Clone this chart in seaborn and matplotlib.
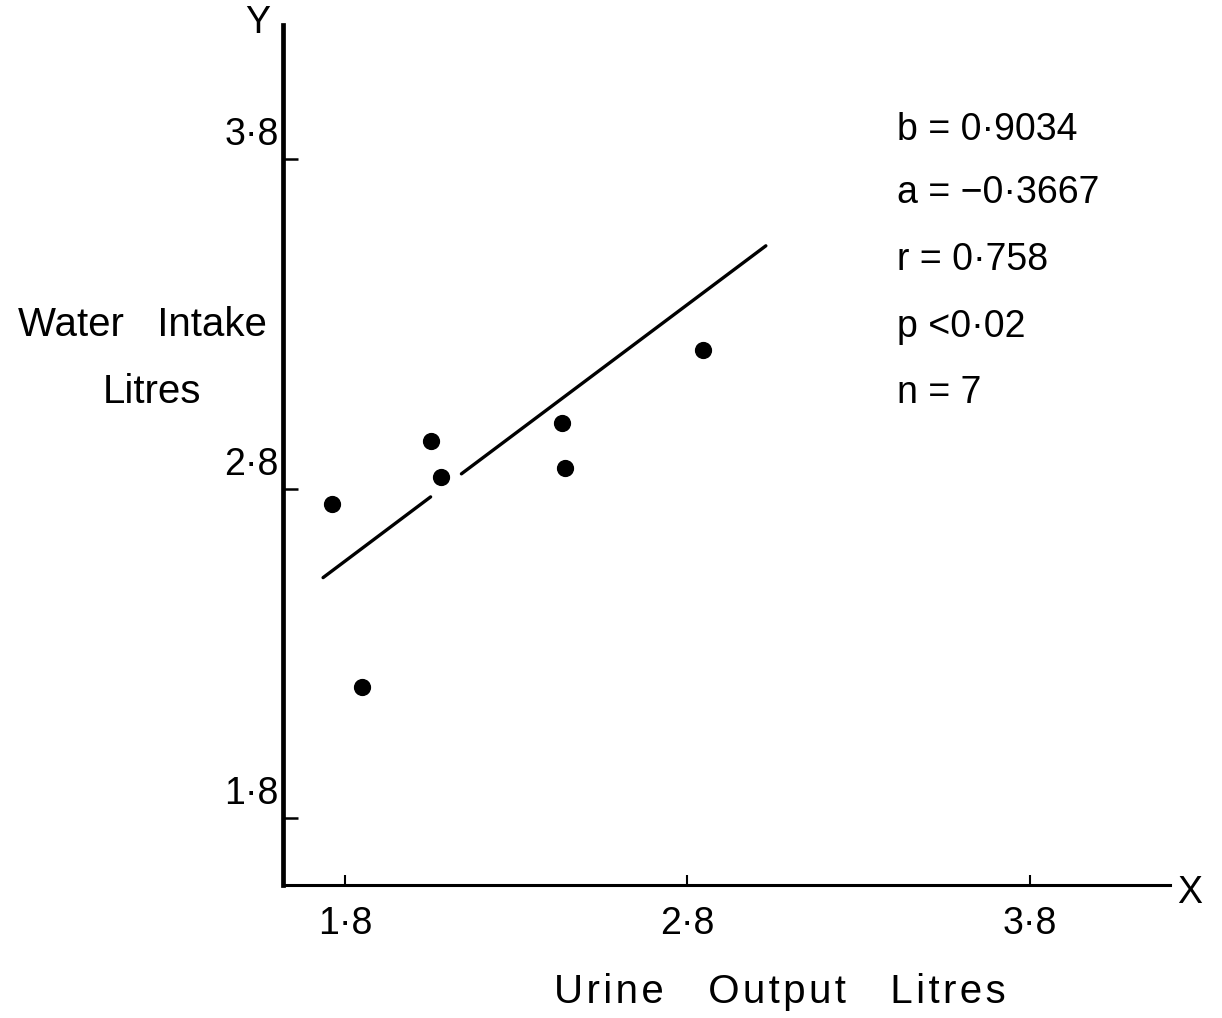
import numpy as np
import pandas as pd
import matplotlib
matplotlib.use("Agg")
import matplotlib.pyplot as plt
import matplotlib.transforms as mtransforms
import seaborn as sns

# ---- data ----
urine_output = [1.762, 1.850, 2.051, 2.080, 2.434, 2.442, 2.845]
water_intake = [2.754, 2.199, 2.946, 2.836, 3.000, 2.864, 3.222]

# regression line, drawn in two pieces (gap in original drawing)
line1_x = [1.736, 2.050]
line1_y = [2.530, 2.775]
line2_x = [2.140, 3.029]
line2_y = [2.845, 3.537]

x_ticks = [1.8, 2.8, 3.8]
y_ticks = [1.8, 2.8, 3.8]
x_tick_labels = ["1·8", "2·8", "3·8"]
y_tick_labels = ["1·8", "2·8", "3·8"]

stats_lines = ["b = 0·9034", "a = −0·3667", "r = 0·758", "p <0·02", "n = 7"]

x_label_words = ["Urine", "Output", "Litres"]
y_label_1 = "Water   Intake"
y_label_2 = "Litres"

# ---- style ----
sns.set_style("ticks", {"axes.edgecolor": "black", "text.color": "black",
                        "xtick.color": "black", "ytick.color": "black"})
plt.rcParams["font.family"] = ["Liberation Sans", "DejaVu Sans"]
plt.rcParams["text.color"] = "black"

fig = plt.figure(figsize=(12.22, 10.18), dpi=100)
ax = fig.add_axes([0.2316, 0.1306, 0.9574 - 0.2316, 0.9754 - 0.1306])

df = pd.DataFrame({"x": urine_output, "y": water_intake})
sns.lineplot(x=line1_x, y=line1_y, ax=ax, color="black", linewidth=2.4, sort=False)
sns.lineplot(x=line2_x, y=line2_y, ax=ax, color="black", linewidth=2.4, sort=False)
sns.scatterplot(data=df, x="x", y="y", ax=ax, s=130, color="black",
                edgecolor="black", linewidth=1, zorder=5)

ax.set_xlim(1.619, 4.209)
ax.set_ylim(1.597, 4.207)

for side in ["top", "right"]:
    ax.spines[side].set_visible(False)
ax.spines["left"].set_linewidth(3.4)
ax.spines["bottom"].set_linewidth(2.2)

ax.set_xticks(x_ticks)
ax.set_xticklabels(x_tick_labels, fontsize=27, color="black")
ax.set_yticks(y_ticks)
ax.set_yticklabels(y_tick_labels, fontsize=27, color="black")
ax.tick_params(axis="x", direction="in", length=7, width=1.5, pad=15)
ax.tick_params(axis="y", direction="in", length=11, width=1.8, pad=3)

# shift y tick labels upward (labels sit above their ticks in the original)
offset = mtransforms.ScaledTranslation(0, 0.28, fig.dpi_scale_trans)
for lbl in ax.get_yticklabels():
    lbl.set_transform(lbl.get_transform() + offset)

ax.set_xlabel("")
ax.set_ylabel("")

# axis titles
hair = "\u200a"
x_label = "    ".join(hair.join(w) for w in x_label_words)
fig.text(780 / 1222, 1 - 992 / 1018, x_label, fontsize=29, ha="center", va="center",
         color="black")
fig.text(142 / 1222, 1 - 325 / 1018, y_label_1, fontsize=29, ha="center", va="center",
         color="black")
fig.text(152 / 1222, 1 - 392 / 1018, y_label_2, fontsize=29, ha="center", va="center",
         color="black")
fig.text(258 / 1222, 1 - 23 / 1018, "Y", fontsize=27, ha="center", va="center", color="black")
fig.text(1190 / 1222, 1 - 893 / 1018, "X", fontsize=27, ha="center", va="center", color="black")

# statistics block
stat_y = [130, 193, 260, 327, 393]
for s, yy in zip(stats_lines, stat_y):
    fig.text(897 / 1222, 1 - yy / 1018, s, fontsize=27, ha="left", va="center", color="black")

fig.savefig("out.png", dpi=100, facecolor="white")
